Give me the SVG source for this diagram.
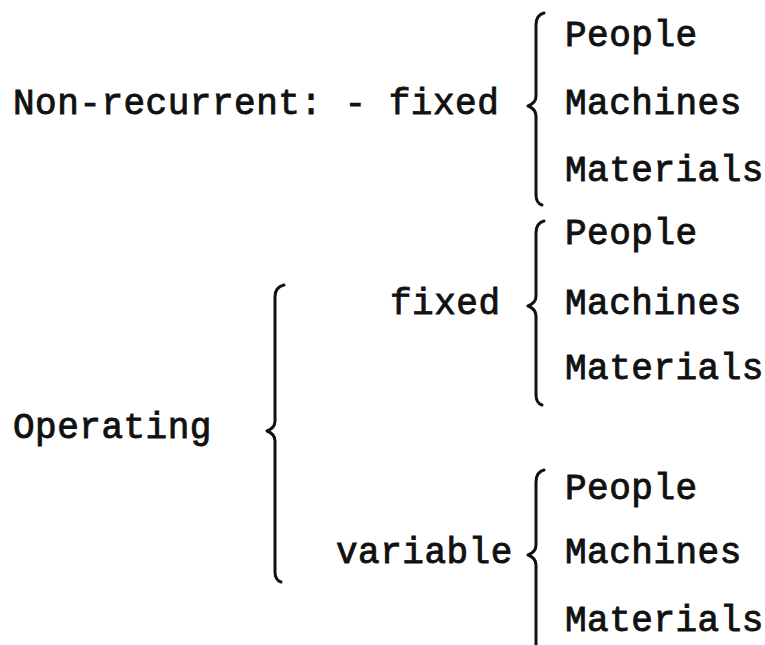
<svg xmlns="http://www.w3.org/2000/svg" width="765" height="645" viewBox="0 0 765 645">
<style>
text{font-family:"Liberation Mono","Courier New",monospace;font-size:36px;letter-spacing:0.5px;fill:#111;stroke:#111;stroke-width:0.9px}
.br{fill:none;stroke:#111;stroke-width:3;stroke-linecap:round;stroke-linejoin:round}
</style>
<rect width="765" height="645" fill="#fff"/>
<g id="nonrecurrent"><text x="13" y="114">Non-recurrent: - fixed</text></g>
<g id="nr-people"><text x="565" y="46">People</text></g>
<g id="nr-machines"><text x="565" y="114">Machines</text></g>
<g id="nr-materials"><text x="565" y="181">Materials</text></g>
<g id="operating"><text x="13" y="438">Operating</text></g>
<g id="fixed"><text x="390" y="314">fixed</text></g>
<g id="f-people"><text x="565" y="244">People</text></g>
<g id="f-machines"><text x="565" y="314">Machines</text></g>
<g id="f-materials"><text x="565" y="379">Materials</text></g>
<g id="variable"><text x="336" y="563">variable</text></g>
<g id="v-people"><text x="565" y="499">People</text></g>
<g id="v-machines"><text x="565" y="563">Machines</text></g>
<g id="v-materials"><text x="565" y="631">Materials</text></g>
<g id="connectors">
<path class="br" d="M544,13 Q536,15 536,25 L536,96 Q536,103 528,106 Q536,109 536,116 L536,195 Q536,203 542,205"/>
<path class="br" d="M544,221 Q536,223 536,233 L536,296 Q536,303 528,306 Q536,309 536,316 L536,395 Q536,403 542,405"/>
<path class="br" d="M284,285 Q275,287 275,297 L275,421 Q275,428 267,431 Q275,434 275,441 L275,572 Q275,580 281,582"/>
<path class="br" d="M544,470 Q536,472 536,482 L536,545 Q536,552 528,555 Q536,558 536,565 L536,645"/>
</g>
</svg>
